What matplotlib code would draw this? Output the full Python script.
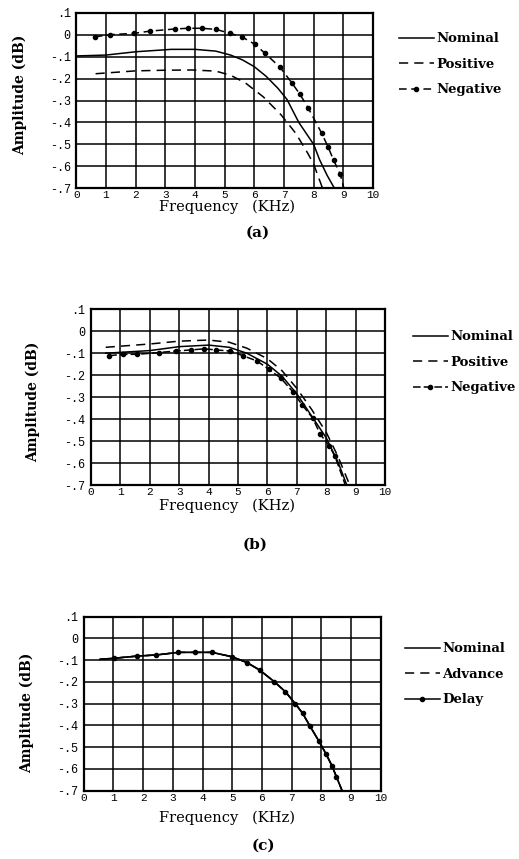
import matplotlib
matplotlib.use("Agg")
import matplotlib.pyplot as plt
import numpy as np

# ---------------- data ----------------
freq_ticks = [0, 1, 2, 3, 4, 5, 6, 7, 8, 9, 10]
amp_ticks = [0.1, 0.0, -0.1, -0.2, -0.3, -0.4, -0.5, -0.6, -0.7]
amp_tick_labels = [".1", "0", "-.1", "-.2", "-.3", "-.4", "-.5", "-.6", "-.7"]

# panel (a)
a_nom_f = [0.0, 1.0, 2.0, 3.2, 4.0, 4.7, 5.2, 5.6, 6.0, 6.4, 6.8, 7.1, 7.5, 8.0, 8.2, 8.45, 8.7]
a_nom_v = [-0.097, -0.093, -0.078, -0.067, -0.067, -0.075, -0.093, -0.115, -0.146, -0.19,
           -0.245, -0.295, -0.40, -0.50, -0.57, -0.64, -0.70]
a_pos_f = [0.65, 2.0, 3.0, 3.9, 4.7, 5.2, 5.7, 6.3, 6.9, 7.4, 7.8, 8.0, 8.3]
a_pos_v = [-0.178, -0.165, -0.162, -0.161, -0.166, -0.185, -0.22, -0.283, -0.365, -0.45,
           -0.54, -0.59, -0.70]
a_neg_f = [0.63, 1.14, 1.95, 2.48, 3.33, 3.76, 4.23, 4.71, 5.18, 5.58, 6.02, 6.36, 6.87,
           7.26, 7.54, 7.82, 8.27, 8.48, 8.67, 8.89, 9.02]
a_neg_v = [-0.01, 0.0, 0.006, 0.016, 0.026, 0.029, 0.029, 0.024, 0.006, -0.01, -0.044,
           -0.085, -0.149, -0.219, -0.272, -0.335, -0.449, -0.51, -0.571, -0.634, -0.70]

# panel (b)
b_nom_f = [0.5, 2.0, 3.0, 4.0, 4.7, 5.3, 6.0, 6.5, 7.0, 7.5, 8.0, 8.4, 8.7]
b_nom_v = [-0.10, -0.088, -0.07, -0.063, -0.073, -0.10, -0.15, -0.205, -0.285, -0.385,
           -0.485, -0.595, -0.70]
b_pos_f = [0.5, 2.0, 3.0, 4.0, 4.7, 5.3, 6.0, 6.5, 7.0, 7.5, 8.0, 8.4, 8.8]
b_pos_v = [-0.073, -0.058, -0.045, -0.040, -0.050, -0.077, -0.125, -0.18, -0.26, -0.355,
           -0.46, -0.57, -0.70]
b_neg_f = [0.62, 1.1, 1.58, 2.3, 2.89, 3.4, 3.85, 4.25, 4.73, 5.16, 5.64, 6.05, 6.46, 6.88,
           7.18, 7.54, 7.79, 8.1, 8.3, 8.65]
b_neg_v = [-0.111, -0.105, -0.105, -0.097, -0.09, -0.085, -0.08, -0.085, -0.09, -0.111,
           -0.135, -0.173, -0.214, -0.278, -0.335, -0.395, -0.467, -0.521, -0.57, -0.70]

# panel (c)
c_f = [0.55, 1.02, 1.81, 2.44, 3.19, 3.75, 4.32, 4.99, 5.5, 5.92, 6.42, 6.79, 7.13, 7.37,
       7.61, 7.91, 8.16, 8.36, 8.51, 8.7]
c_nom_v = [-0.096, -0.091, -0.081, -0.076, -0.064, -0.064, -0.064, -0.084, -0.111, -0.145,
           -0.199, -0.245, -0.301, -0.344, -0.401, -0.47, -0.531, -0.586, -0.636, -0.70]
c_adv_v = list(c_nom_v)
c_del_v = list(c_nom_v)

# ---------------- figure ----------------
W, H = 519, 859
fig = plt.figure(figsize=(W / 100, H / 100), dpi=100)

SERIF = "DejaVu Serif"
MONO = "Liberation Mono"


def px_axes(left, top, right, bottom):
    return fig.add_axes([left / W, 1 - bottom / H, (right - left) / W, (bottom - top) / H])


def style(ax, xlab_px, yl_x, yl_y):
    ax.set_xlim(0, 10)
    ax.set_ylim(-0.7, 0.1)
    ax.set_xticks(freq_ticks)
    ax.set_yticks(amp_ticks)
    ax.set_yticklabels(amp_tick_labels)
    ax.grid(True, color="black", linewidth=1.1)
    ax.set_axisbelow(True)
    ax.tick_params(axis="y", length=0, pad=4)
    ax.tick_params(axis="x", length=0, pad=1.5)
    for lab in ax.get_yticklabels():
        lab.set_fontfamily(MONO)
        lab.set_fontsize(8.5)
    for lab in ax.get_xticklabels():
        lab.set_fontfamily(MONO)
        lab.set_fontsize(8)
    for s in ax.spines.values():
        s.set_linewidth(1.6)
    fig.text(226.7 / W, 1 - xlab_px / H, "Frequency   (KHz)", family=SERIF, fontsize=10.5,
             ha="center", va="center")
    fig.text(yl_x / W, 1 - yl_y / H, "Amplitude (dB)", family=SERIF, fontweight="bold",
             fontsize=10, rotation=90, ha="center", va="center")


def legend(ax, handles, labels, x_px, y_px):
    leg = ax.legend(handles, labels, loc="upper left",
                    bbox_to_anchor=(x_px / W, 1 - y_px / H), bbox_transform=fig.transFigure,
                    frameon=False, handlelength=2.6, handletextpad=0.2, labelspacing=0.95,
                    prop={"family": SERIF, "weight": "bold", "size": 9.5}, borderaxespad=0)
    return leg


MS = 3.0

# panel (a)
axa = px_axes(76.3, 12.7, 373.0, 188.3)
la1, = axa.plot(a_nom_f, a_nom_v, color="black", lw=1.1, ls="-")
la2, = axa.plot(a_pos_f, a_pos_v, color="black", lw=1.1, ls=(0, (6, 4)))
la3, = axa.plot(a_neg_f, a_neg_v, color="black", lw=1.1, ls=(0, (5, 3)), marker="o", ms=MS,
                markevery=list(range(len(a_neg_f) - 1)))
style(axa, 207, 20, 95)
legend(axa, [la1, la2, la3], ["Nominal", "Positive", "Negative"], 394, 27)
fig.text(258 / W, 1 - 233 / H, "(a)", family=SERIF, fontweight="bold", fontsize=11,
         ha="center", va="center")

# panel (b)
axb = px_axes(91.0, 309.3, 385.0, 485.0)
lb1, = axb.plot(b_nom_f, b_nom_v, color="black", lw=1.1, ls="-")
lb2, = axb.plot(b_pos_f, b_pos_v, color="black", lw=1.1, ls=(0, (6, 4)))
lb3, = axb.plot(b_neg_f, b_neg_v, color="black", lw=1.1, ls=(0, (5, 2)), marker="o", ms=MS,
                markevery=list(range(len(b_neg_f) - 1)))
style(axb, 506, 33, 402)
legend(axb, [lb1, lb2, lb3], ["Nominal", "Positive", "Negative"], 408, 325)
fig.text(255 / W, 1 - 545 / H, "(b)", family=SERIF, fontweight="bold", fontsize=11,
         ha="center", va="center")

# panel (c)
axc = px_axes(83.7, 616.7, 380.7, 790.7)
lc1, = axc.plot(c_f, c_nom_v, color="black", lw=1.1, ls="-")
lc2, = axc.plot(c_f, c_adv_v, color="black", lw=1.1, ls=(0, (6, 4)))
lc3, = axc.plot(c_f, c_del_v, color="black", lw=1.1, ls="-", marker="o", ms=MS,
                markevery=list(range(1, len(c_f) - 1)))
style(axc, 818, 27, 713)
legend(axc, [lc1, lc2, lc3], ["Nominal", "Advance", "Delay"], 400, 637)
fig.text(263 / W, 1 - 846 / H, "(c)", family=SERIF, fontweight="bold", fontsize=11,
         ha="center", va="center")

fig.savefig("out.png", dpi=100)
